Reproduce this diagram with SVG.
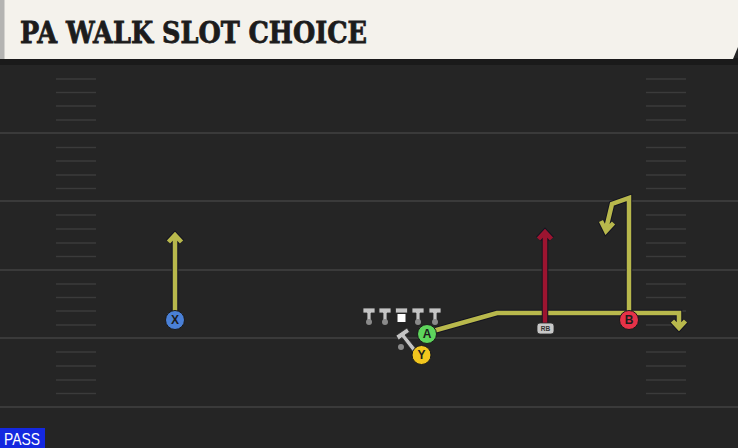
<svg xmlns="http://www.w3.org/2000/svg" width="738" height="448" viewBox="0 0 738 448">
<defs>
<style>
.yl{stroke:#3a3a3a;stroke-width:2;fill:none}
.hm{stroke:#3b3b3b;stroke-width:1.6;fill:none}
.ro{stroke:#141420;stroke-width:6.5;fill:none;stroke-linejoin:miter;stroke-linecap:butt}
.ry{stroke:#b8b84c;stroke-width:4.5;fill:none;stroke-linejoin:miter;stroke-linecap:butt}
.rr{stroke:#9c1430;stroke-width:4.5;fill:none;stroke-linejoin:miter;stroke-linecap:butt}
.ol{fill:#c4c4c4;stroke:#2a2a2a;stroke-width:0.8}
.dot{fill:#8a8a8a}
.lbl{font-family:"Liberation Sans",Arial,sans-serif;font-weight:bold;font-size:12px;fill:#1c1c1c;text-anchor:middle}
.pc{stroke:#1a1a1a;stroke-width:1}
</style>
</defs>
<rect x="0" y="0" width="738" height="448" fill="#252525"/>
<!-- header -->
<rect x="0" y="58" width="738" height="7" fill="#1a1a1a"/>
<path d="M0,0 H738 V47 L733,59 H0 Z" fill="#f4f2ec"/>
<rect x="0" y="0" width="4.5" height="59" fill="#b4b4b2"/>
<text x="20" y="42.5" font-family="'DejaVu Serif',serif" font-weight="bold" font-size="29" fill="#1c1c1c" stroke="#1c1c1c" stroke-width="0.8" textLength="347" lengthAdjust="spacingAndGlyphs">PA WALK SLOT CHOICE</text>
<!-- field -->
<g id="field">
<line class="yl" x1="0" y1="133" x2="738" y2="133"/>
<line class="yl" x1="0" y1="201" x2="738" y2="201"/>
<line class="yl" x1="0" y1="270" x2="738" y2="270"/>
<line class="yl" x1="0" y1="338" x2="738" y2="338"/>
<line class="yl" x1="0" y1="407" x2="738" y2="407"/>
<path class="hm" d="M56,79H96M56,92.5H96M56,106H96M56,120H96M56,147.5H96M56,161H96M56,175H96M56,188.5H96M56,215H96M56,229H96M56,243H96M56,256.5H96M56,284H96M56,297.5H96M56,311H96M56,325H96M56,352H96M56,366H96M56,380H96M56,393.5H96"/>
<path class="hm" d="M646,79H686M646,92.5H686M646,106H686M646,120H686M646,147.5H686M646,161H686M646,175H686M646,188.5H686M646,215H686M646,229H686M646,243H686M646,256.5H686M646,284H686M646,297.5H686M646,311H686M646,325H686M646,352H686M646,366H686M646,380H686M646,393.5H686"/>
</g>
<g id="connectors">
<path class="ro" d="M175,312V236M168.5,242L175,235L181.5,242"/>
<path class="ry" d="M175,312V236M168.5,242L175,235L181.5,242"/>
<path class="ro" d="M433,331L497,313L679,313V327M672.5,321L679,328L685.5,321"/>
<path class="ry" d="M433,331L497,313L679,313V327M672.5,321L679,328L685.5,321"/>
<path class="ro" d="M629,314V198L612,204L606,229M613.5,223L606,231L601,221"/>
<path class="ry" d="M629,314V198L612,204L606,229M613.5,223L606,231L601,221"/>
<path class="ro" d="M545,324V232M538.5,239L545,232L551.5,239"/>
<path class="rr" d="M545,324V232M538.5,239L545,232L551.5,239"/>
</g>
<g id="ol">
<g id="lt"><path class="ol" d="M363,308H375V313H371V321H367V313H363Z"/><circle class="dot" cx="369" cy="322" r="3"/></g>
<g id="lg"><path class="ol" d="M379,308H391V313H387V321H383V313H379Z"/><circle class="dot" cx="385" cy="322" r="3"/></g>
<g id="c"><path class="ol" d="M395.5,308H407.5V313H395.5Z"/><rect x="397.5" y="314" width="8" height="8" fill="#ffffff"/></g>
<g id="rg"><path class="ol" d="M412,308H424V313H420V321H416V313H412Z"/><circle class="dot" cx="418" cy="322" r="3"/></g>
<g id="rt"><path class="ol" d="M429,308H441V313H437V321H433V313H429Z"/><circle class="dot" cx="435" cy="322" r="3"/></g>
</g>
<g id="qb">
<path class="ol" d="M396,335.5L407,328L409.5,332L405,335L417,350L413.5,352.5L402,337.5L398.5,340Z"/>
<circle class="dot" cx="401" cy="347" r="3"/>
</g>
<g id="y"><circle class="pc" cx="421.5" cy="355" r="9.5" fill="#f2c61e"/><text class="lbl" x="421.5" y="359.3">Y</text></g>
<g id="a"><circle class="pc" cx="427" cy="334" r="9.5" fill="#5ed45c"/><text class="lbl" x="427" y="338.3">A</text></g>
<g id="x"><circle class="pc" cx="175" cy="320" r="9.5" fill="#4a80d6"/><text class="lbl" x="175" y="324.3">X</text></g>
<g id="b"><circle class="pc" cx="629" cy="320" r="9.5" fill="#e63248"/><text class="lbl" x="629" y="324.3">B</text></g>
<g id="rb"><rect x="537" y="323" width="17" height="11" rx="3" fill="#c8c8c8" stroke="#2a2a2a" stroke-width="0.8"/><text x="545.5" y="331" font-family="'Liberation Sans',Arial,sans-serif" font-size="6.5" font-weight="bold" fill="#333" text-anchor="middle">RB</text></g>
<g id="pass"><rect x="0" y="428" width="45" height="20" fill="#1428e0"/><text x="4" y="445" font-family="'Liberation Sans',Arial,sans-serif" font-size="17" fill="#ffffff" textLength="36" lengthAdjust="spacingAndGlyphs">PASS</text></g>
</svg>
